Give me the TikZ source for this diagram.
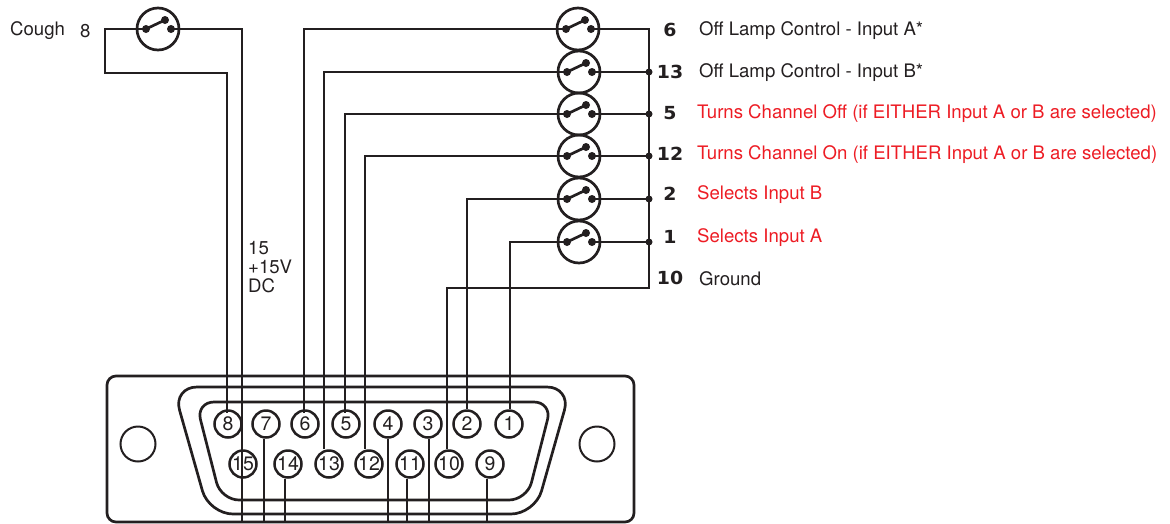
\documentclass[tikz,border=0pt]{standalone}
\usepackage{fontspec}
\setmainfont{TeX Gyre Heros}
\newfontfamily\numfont{DejaVu Sans}[FakeStretch=1.05]
\definecolor{selred}{RGB}{237,28,36}
\definecolor{wirecol}{RGB}{35,31,32}
\usetikzlibrary{calc}
\tikzset{
  wire/.style={line width=2.7pt,color=wirecol,line join=miter},
  pinnode/.style={circle,draw=wirecol,line width=2.5pt,minimum size=27pt,inner sep=0pt,text=wirecol,font=\fontsize{19.5}{19.5}\selectfont},
  swnode/.style={circle,draw=wirecol,line width=2.7pt,minimum size=42pt,inner sep=0pt},
  contact/.style={circle,fill=wirecol,minimum size=8pt,inner sep=0pt},
  junction/.style={circle,fill=wirecol,minimum size=7pt,inner sep=0pt},
  holenode/.style={circle,draw=wirecol,line width=2pt,minimum size=35pt,inner sep=0pt},
  numlabel/.style={anchor=center,text=wirecol,font=\numfont\bfseries\fontsize{18}{18}\selectfont},
  txtlabel/.style={anchor=west,text=wirecol,inner sep=0pt,font=\fontsize{18.6}{18.6}\selectfont},
  redlabel/.style={txtlabel,text=selred},
}
\begin{document}
\begin{tikzpicture}[x=1pt,y=-1pt]
    \useasboundingbox (0,0) rectangle (1170,523);
    % connector body
    \draw[wire,rounded corners=9pt] (107,376) rectangle (634,522);
    \draw[wire,rounded corners=24pt] (173,387) -- (571,387) -- (535,514) -- (209,514) -- cycle;
    \draw[wire,rounded corners=18pt] (196,402) -- (552,402) -- (527,500) -- (221,500) -- cycle;
    \node[holenode] (holel) at (138,444) {};
    \node[holenode] (holer) at (597,444) {};
    % pins
    \foreach \p/\x in {8/228,7/266,6/305,5/346,4/388,3/428,2/467,1/509}
      \node[pinnode] (p\p) at (\x,424) {\p};
    \foreach \p/\x in {15/243,14/288,13/329,12/369,11/410,10/449,9/490}
      \node[pinnode] (p\p) at (\x,464) {\p};
    \coordinate (bottomedge) at (0,522);
    % switches
    \foreach \n/\x/\y in {c/158/29,6/578/29,13/579/72,5/579/114,12/579/156,2/579/199,1/579/242} {
      \node[swnode] (sw\n) at (\x,\y) {};
      \node[contact] (sw\n a) at (\x-12,\y) {};
      \node[contact] (sw\n b) at (\x+13,\y) {};
      \node[contact] (sw\n t) at (\x+7,\y-9) {};
      \draw[wire] (sw\n a.center) -- (sw\n t.center);
    }
    % bus on the right
    \foreach \n/\y in {13/72,5/114,12/156,2/199,1/242} {
      \node[junction] (j\n) at (649,\y) {};
      \draw[wire] (sw\n b.center) -- (j\n.center);
    }
    \coordinate (busend) at (649,288);
    \draw[wire] (sw6b.center) -| (busend) -| ([xshift=-2pt]p10.north);
    % wires from switches to pins
    \foreach \n/\s/\e in {6/-1/4,13/-5/0,5/-1/4,12/-4/0,2/0/0,1/1/0}
      \draw[wire,shorten >=-\e pt] (sw\n a.center) -| ([xshift=\s pt]p\n.north);
    % cough loop
    \coordinate (coughc) at (105,29);
    \coordinate (coughd) at (105,73);
    \draw[wire,shorten >=-4pt] (swca.center) -- (coughc) -- (coughd) -| ([xshift=-1pt]p8.north);
    \draw[wire] (swcb.center) -| ([xshift=-1pt]p15.north) -- ([xshift=-1pt]p15.south) -- ([xshift=-1pt]p15.south |- bottomedge);
    % free wires leaving at the bottom
    \foreach \p/\s in {7/-2,14/-3,4/0,11/-3,3/1,9/-3}
      \draw[wire] ([xshift=\s pt]p\p.south) -- ([xshift=\s pt]p\p.south |- bottomedge);
    % labels
    \foreach \n/\y in {6/30,13/72,5/113,12/154,2/194,1/237,10/278}
      \node[numlabel] (num\n) at (670,\y) {\n};
    \node[txtlabel] (lblcough) at (10,31) {Cough};
    \node[txtlabel] (lbleight) at (80,31) {8};
    \node[txtlabel,align=left] (lblvdc) at (248,267) {15\\[0pt]+15V\\[0pt]DC};
    \node[txtlabel] (lbla) at (699,31) {Off Lamp Control - Input A*};
    \node[txtlabel] (lblb) at (699,73) {Off Lamp Control - Input B*};
    \node[redlabel] (lbloff) at (697,114) {Turns Channel Off (if EITHER Input A or B are selected)};
    \node[redlabel] (lblon) at (697,155) {Turns Channel On (if EITHER Input A or B are selected)};
    \node[redlabel] (lblsb) at (697,195) {Selects Input B};
    \node[redlabel] (lblsa) at (697,238) {Selects Input A};
    \node[txtlabel] (lblgnd) at (699,279) {Ground};
\end{tikzpicture}
\end{document}
